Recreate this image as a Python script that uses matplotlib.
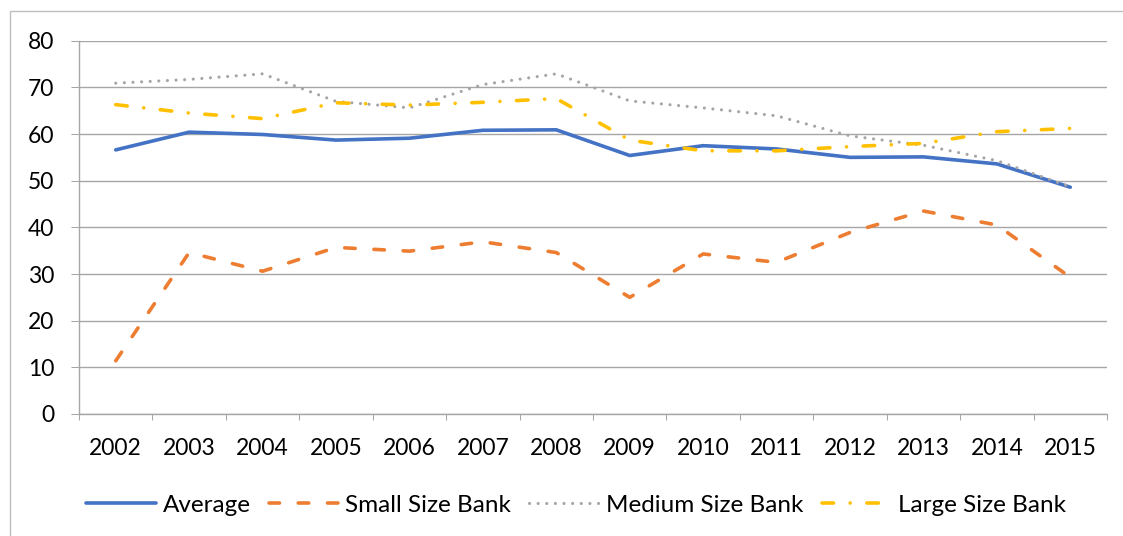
import matplotlib
matplotlib.use("Agg")
import matplotlib.pyplot as plt
from matplotlib.patches import Rectangle

years = ["2002", "2003", "2004", "2005", "2006", "2007", "2008",
         "2009", "2010", "2011", "2012", "2013", "2014", "2015"]
average = [56.6, 60.4, 59.9, 58.7, 59.1, 60.8, 60.9, 55.4, 57.5, 56.8, 55.0, 55.1, 53.6, 48.6]
small = [11.4, 34.6, 30.6, 35.7, 34.9, 36.9, 34.6, 25.0, 34.3, 32.5, 38.9, 43.5, 40.5, 29.3]
medium = [70.9, 71.7, 72.9, 67.0, 65.6, 70.6, 72.9, 67.1, 65.6, 63.9, 59.6, 57.6, 54.3, 48.7]
large = [66.3, 64.5, 63.3, 66.7, 66.2, 66.8, 67.6, 58.7, 56.4, 56.4, 57.3, 58.0, 60.5, 61.2]
y_ticks = [0, 10, 20, 30, 40, 50, 60, 70, 80]

plt.rcParams['font.family'] = ['Lato', 'DejaVu Sans']

W, H = 1123, 536
fig = plt.figure(figsize=(W / 100, H / 100), dpi=100)
ax = fig.add_axes([79 / W, 1 - 414 / H, (1107 - 79) / W, (414 - 40.7) / H])

x = list(range(len(years)))
lw = 2.6
ax.plot(x, average, color='#4472C4', lw=lw, solid_capstyle='round', label='Average', zorder=3)
ax.plot(x, small, color='#ED7D31', lw=lw, ls=(0, (2.9, 5.2)), dash_capstyle='round', label='Small Size Bank', zorder=3)
ax.plot(x, medium, color='#A5A5A5', lw=2.25, ls=(0, (0.01, 2.75)), dash_capstyle='round', label='Medium Size Bank', zorder=3)
ax.plot(x, large, color='#FFC000', lw=lw, ls=(0, (3.2, 4.6, 0.01, 4.6)), dash_capstyle='round', label='Large Size Bank', zorder=3)

ax.set_xlim(-0.5, len(years) - 0.5)
ax.set_ylim(0, 80)
ax.set_yticks(y_ticks)
ax.set_yticklabels([str(v) for v in y_ticks])
ax.set_xticks(x)
ax.set_xticklabels(years)
ax.set_xticks([i - 0.5 for i in range(len(years) + 1)], minor=True)

grid_c = '#A6A6A6'
ax.yaxis.grid(True, color=grid_c, lw=1.0)
ax.set_axisbelow(True)
for s in ['top', 'right']:
    ax.spines[s].set_visible(False)
for s in ['left', 'bottom']:
    ax.spines[s].set_color(grid_c)
    ax.spines[s].set_linewidth(1.0)

ax.tick_params(axis='y', length=5.5, width=0.75, color=grid_c, pad=12.5, labelsize=16.5, labelcolor='black')
ax.tick_params(axis='x', which='major', length=0, pad=17, labelsize=16.5, labelcolor='black')
ax.tick_params(axis='x', which='minor', length=4.5, width=0.75, color=grid_c)

leg = fig.legend(loc='center', bbox_to_anchor=(0.513, 1 - 505 / H), ncol=4, frameon=False,
                 fontsize=17.5, handlelength=2.9, columnspacing=0.75, handletextpad=0.25)

fig.patches.append(Rectangle((10 / W, -0.1), 1.2, 1 - 11 / H + 0.1, transform=fig.transFigure,
                             fill=False, edgecolor='#BFBFBF', lw=1.0))

fig.savefig('out.png', dpi=100)
